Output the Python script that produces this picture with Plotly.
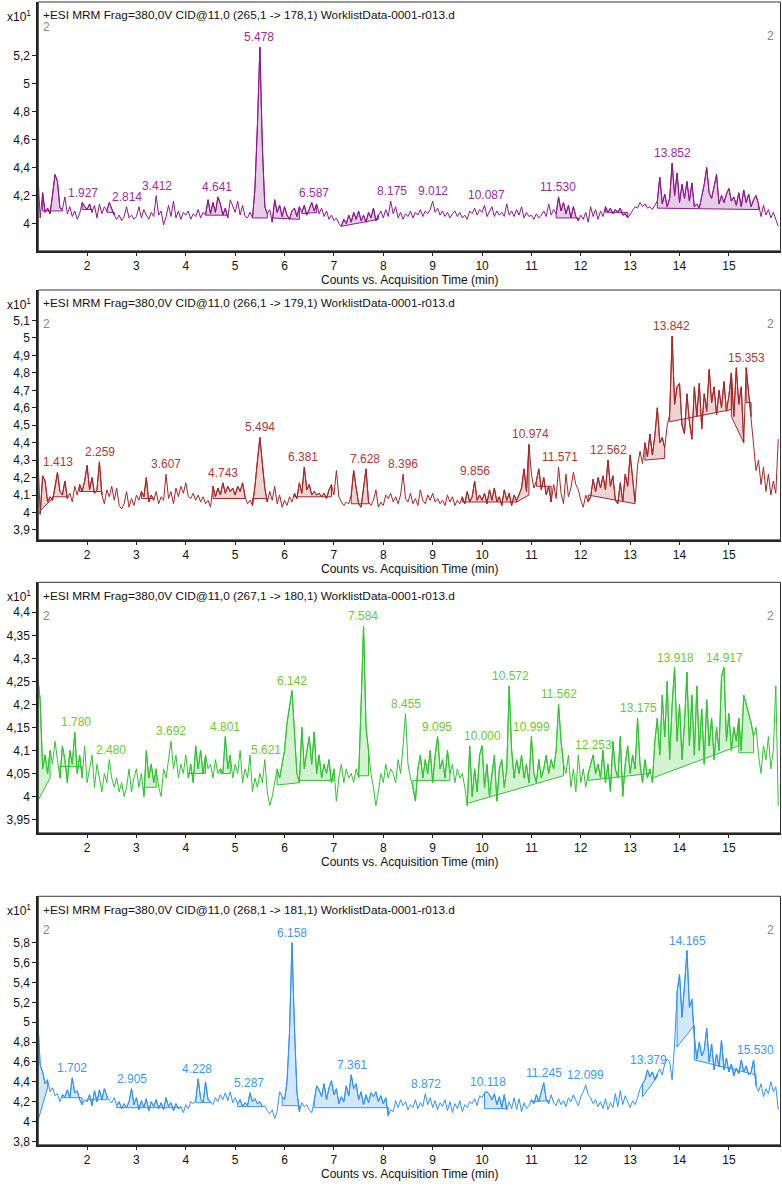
import plotly.graph_objects as go

W, H = 782, 1186
T0, DT = 1.0, 0.05   # acquisition sampling (min)

# ---------------- data (counts x10^1, one row per minute) ----------------
p1_counts = [
    4.38, 4.04, 4.22, 4.08, 4.11, 4.07, 4.20, 4.35, 4.30, 4.11, 4.10, 4.19, 4.07, 4.12, 4.05, 4.09, 4.03, 4.07, 4.15, 4.12,
    4.10, 4.14, 4.08, 4.13, 4.04, 4.14, 4.07, 4.12, 4.09, 4.15, 4.10, 4.06, 4.03, 4.06, 4.02, 4.05, 4.12, 4.04, 4.06, 4.03,
    4.05, 4.12, 4.04, 4.10, 4.06, 4.03, 4.08, 4.05, 4.20, 4.06, 4.09, 3.99, 4.05, 4.13, 4.05, 4.16, 4.04, 4.09, 4.03, 4.08,
    4.06, 4.09, 4.03, 4.07, 4.05, 4.10, 4.04, 4.08, 4.06, 4.17, 4.07, 4.15, 4.08, 4.19, 4.14, 4.06, 4.11, 4.04, 4.17, 4.12,
    4.08, 4.16, 4.06, 4.13, 4.05, 4.04, 4.08, 4.04, 4.25, 4.70, 5.26, 4.55, 4.12, 4.07, 4.10, 4.01, 4.17, 4.08, 4.13, 4.05,
    4.12, 4.06, 4.03, 4.09, 4.11, 4.05, 4.12, 4.08, 4.13, 4.06, 4.10, 4.15, 4.09, 4.14, 4.07, 4.11, 4.05, 4.09, 4.03, 4.06,
    4.02, 4.04, 4.00, 3.98, 4.03, 4.00, 4.06, 4.01, 4.08, 4.03, 4.09, 4.02, 4.06, 4.01, 4.08, 4.04, 4.11, 4.02, 4.06, 4.09,
    4.04, 4.10, 4.05, 4.16, 4.07, 4.12, 4.04, 4.08, 4.03, 4.07, 4.05, 4.09, 4.04, 4.08, 4.06, 4.10, 4.05, 4.09, 4.07, 4.10,
    4.16, 4.08, 4.11, 4.06, 4.09, 4.05, 4.08, 4.04, 4.07, 4.09, 4.05, 4.08, 4.04, 4.06, 4.03, 4.09, 4.07, 4.11, 4.06, 4.10,
    4.08, 4.13, 4.05, 4.09, 4.12, 4.05, 4.09, 4.06, 4.08, 4.05, 4.14, 4.06, 4.09, 4.05, 4.10, 4.06, 4.12, 4.04, 4.08, 4.05,
    4.06, 4.03, 4.07, 4.04, 4.06, 4.09, 4.05, 4.14, 4.06, 4.10, 4.07, 4.19, 4.09, 4.15, 4.07, 4.13, 4.04, 4.12, 4.05, 4.02,
    4.06, 4.03, 4.08, 4.01, 4.12, 4.05, 4.10, 4.03, 4.09, 4.05, 4.12, 4.08, 4.11, 4.07, 4.10, 4.08, 4.11, 4.06, 4.07, 4.04,
    4.07, 4.10, 4.12, 4.11, 4.15, 4.12, 4.14, 4.11, 4.12, 4.10, 4.13, 4.16, 4.33, 4.14, 4.21, 4.12, 4.18, 4.43, 4.20, 4.36,
    4.15, 4.28, 4.18, 4.30, 4.16, 4.29, 4.12, 4.14, 4.11, 4.20, 4.28, 4.40, 4.22, 4.18, 4.26, 4.35, 4.14, 4.20, 4.15, 4.21,
    4.25, 4.16, 4.19, 4.13, 4.22, 4.12, 4.24, 4.15, 4.21, 4.12, 4.17, 4.20, 4.14, 4.05, 4.13, 4.06, 4.10, 4.04, 4.08, 4.03,
    3.98,
]
p2_counts = [
    4.35, 3.99, 4.21, 4.18, 4.06, 4.09, 4.07, 4.14, 4.23, 4.12, 4.10, 4.18, 4.08, 4.11, 4.06, 4.15, 4.10, 4.16, 4.12, 4.18,
    4.27, 4.13, 4.20, 4.11, 4.13, 4.29, 4.10, 4.05, 4.13, 4.09, 4.15, 4.07, 4.14, 4.04, 4.02, 4.05, 4.12, 4.03, 4.08, 4.04,
    4.10, 4.07, 4.12, 4.09, 4.20, 4.06, 4.10, 4.07, 4.12, 4.05, 4.09, 4.07, 4.22, 4.08, 4.12, 4.05, 4.14, 4.09, 4.15, 4.11,
    4.17, 4.09, 4.08, 4.11, 4.07, 4.10, 4.06, 4.09, 4.05, 4.07, 4.03, 4.15, 4.09, 4.14, 4.10, 4.17, 4.11, 4.15, 4.12, 4.14,
    4.10, 4.15, 4.12, 4.17, 4.09, 4.05, 4.07, 4.04, 4.15, 4.30, 4.43, 4.28, 4.14, 4.06, 4.12, 4.07, 4.15, 4.05, 4.10, 4.03,
    4.07, 4.04, 4.09, 4.06, 4.11, 4.08, 4.17, 4.11, 4.26, 4.13, 4.16, 4.10, 4.12, 4.10, 4.11, 4.09, 4.11, 4.08, 4.13, 4.16,
    4.10, 4.24, 4.09, 4.06, 4.04, 4.06, 4.05, 4.10, 4.24, 4.14, 4.05, 4.03, 4.15, 4.25, 4.06, 4.04, 4.07, 4.13, 4.03, 4.06,
    4.04, 4.10, 4.08, 4.11, 4.06, 4.09, 4.05, 4.10, 4.22, 4.08, 4.06, 4.11, 4.05, 4.08, 4.04, 4.13, 4.07, 4.05, 4.10, 4.07,
    4.11, 4.06, 4.08, 4.05, 4.07, 4.04, 4.10, 4.06, 4.09, 4.04, 4.07, 4.05, 4.09, 4.05, 4.12, 4.06, 4.09, 4.18, 4.07, 4.10,
    4.07, 4.11, 4.05, 4.13, 4.07, 4.14, 4.06, 4.09, 4.04, 4.13, 4.07, 4.11, 4.04, 4.10, 4.07, 4.10, 4.14, 4.25, 4.12, 4.39,
    4.22, 4.14, 4.18, 4.25, 4.13, 4.20, 4.10, 4.15, 4.06, 4.16, 4.08, 4.26, 4.11, 4.05, 4.22, 4.09, 4.14, 4.23, 4.16, 4.13,
    4.07, 4.03, 4.10, 4.06, 4.09, 4.19, 4.12, 4.20, 4.14, 4.21, 4.13, 4.30, 4.15, 4.21, 4.07, 4.05, 4.17, 4.06, 4.22, 4.15,
    4.33, 4.20, 4.06, 4.27, 4.35, 4.28, 4.40, 4.32, 4.45, 4.33, 4.44, 4.60, 4.40, 4.43, 4.37, 4.50, 4.56, 5.01, 4.62, 4.72,
    4.74, 4.50, 4.45, 4.68, 4.52, 4.42, 4.72, 4.55, 4.74, 4.48, 4.68, 4.58, 4.82, 4.63, 4.72, 4.56, 4.70, 4.60, 4.75, 4.58,
    4.67, 4.80, 4.55, 4.83, 4.62, 4.72, 4.40, 4.83, 4.68, 4.55, 4.38, 4.24, 4.30, 4.16, 4.26, 4.12, 4.22, 4.10, 4.18, 4.11,
    4.42,
]
p3_counts = [
    4.26, 4.21, 4.06, 4.09, 4.05, 4.10, 4.07, 4.12, 4.08, 4.04, 4.11, 4.08, 4.03, 4.10, 4.07, 4.14, 4.05, 4.09, 4.04, 4.11,
    4.03, 4.06, 4.09, 4.02, 4.07, 4.04, 4.01, 4.05, 4.03, 4.08, 4.04, 4.02, 4.04, 4.01, 4.03, 4.00, 4.02, 4.06, 4.01, 4.04,
    4.06, 4.02, 4.05, 4.00, 4.10, 4.04, 4.07, 4.03, 4.06, 4.02, 4.00, 4.06, 4.04, 4.08, 4.12, 4.06, 4.09, 4.04, 4.07, 4.05,
    4.09, 4.04, 4.07, 4.03, 4.11, 4.06, 4.10, 4.05, 4.09, 4.06, 4.07, 4.04, 4.08, 4.05, 4.06, 4.05, 4.13, 4.06, 4.09, 4.04,
    4.07, 4.05, 4.10, 4.03, 4.06, 4.04, 4.09, 4.01, 4.04, 4.02, 4.05, 4.03, 4.08, 4.01, 3.98, 4.00, 4.03, 4.06, 4.04, 4.07,
    4.10, 4.16, 4.20, 4.23, 4.14, 4.05, 4.03, 4.15, 4.06, 4.10, 4.13, 4.07, 4.14, 4.05, 4.09, 4.04, 4.07, 4.05, 4.08, 4.03,
    4.06, 3.99, 4.04, 4.07, 4.03, 4.06, 4.04, 4.05, 4.03, 4.06, 4.04, 4.20, 4.37, 4.15, 4.10, 4.05, 4.02, 3.98, 4.01, 4.05,
    4.03, 4.07, 4.04, 4.06, 4.05, 4.03, 4.08, 4.05, 4.11, 4.18, 4.07, 4.04, 4.02, 3.99, 4.06, 4.09, 4.04, 4.08, 4.05, 4.10,
    4.03, 4.09, 4.13, 4.06, 4.08, 4.04, 4.10, 4.05, 4.07, 4.03, 4.06, 4.04, 4.05, 4.02, 3.98, 4.11, 4.00, 4.06, 4.01, 4.09,
    4.11, 4.02, 4.07, 4.00, 4.05, 4.09, 3.99, 4.06, 4.08, 4.02, 4.06, 4.24, 4.10, 4.04, 4.08, 4.05, 4.09, 4.04, 4.07, 4.03,
    4.13, 4.05, 4.03, 4.08, 4.04, 4.06, 4.09, 4.05, 4.08, 4.06, 4.10, 4.20, 4.12, 4.07, 4.05, 4.09, 4.02, 4.06, 4.01, 4.09,
    4.03, 4.06, 4.02, 4.05, 4.07, 4.09, 4.05, 4.07, 4.04, 4.10, 4.03, 4.07, 4.01, 4.12, 4.06, 4.04, 4.13, 4.00, 4.07, 4.11,
    4.05, 4.09, 4.06, 4.17, 4.07, 4.03, 4.08, 4.04, 4.06, 4.03, 4.12, 4.17, 4.09, 4.22, 4.13, 4.25, 4.08, 4.20, 4.28, 4.12,
    4.20, 4.08, 4.16, 4.27, 4.11, 4.22, 4.09, 4.24, 4.10, 4.19, 4.07, 4.21, 4.11, 4.17, 4.08, 4.15, 4.10, 4.26, 4.28, 4.12,
    4.18, 4.10, 4.15, 4.12, 4.17, 4.10, 4.22, 4.20, 4.18, 4.16, 4.13, 4.15, 4.09, 4.05, 4.11, 4.08, 4.13, 4.06, 4.10, 4.24,
    3.98,
]
p4_counts = [
    5.04, 4.57, 4.50, 4.38, 4.42, 4.30, 4.34, 4.26, 4.28, 4.20, 4.27, 4.25, 4.32, 4.24, 4.44, 4.29, 4.31, 4.22, 4.17, 4.22,
    4.20, 4.27, 4.16, 4.31, 4.20, 4.32, 4.22, 4.33, 4.26, 4.21, 4.19, 4.24, 4.16, 4.20, 4.13, 4.18, 4.14, 4.20, 4.33, 4.17,
    4.24, 4.12, 4.21, 4.14, 4.23, 4.11, 4.20, 4.15, 4.22, 4.13, 4.19, 4.12, 4.24, 4.15, 4.19, 4.11, 4.18, 4.13, 4.15, 4.09,
    4.17, 4.13, 4.20, 4.18, 4.21, 4.43, 4.23, 4.19, 4.40, 4.22, 4.20, 4.17, 4.24, 4.20, 4.27, 4.22, 4.29, 4.21, 4.30, 4.19,
    4.24, 4.18, 4.22, 4.15, 4.19, 4.16, 4.29, 4.20, 4.23, 4.18, 4.20, 4.15, 4.16, 4.11, 4.08, 4.12, 4.03, 4.10, 4.30, 4.25,
    4.22, 4.40, 4.90, 5.80, 4.95, 4.30, 4.10, 4.19, 4.15, 4.17, 4.12, 4.09, 4.21, 4.36, 4.32, 4.25, 4.38, 4.22, 4.34, 4.41,
    4.27, 4.33, 4.18, 4.25, 4.20, 4.36, 4.26, 4.47, 4.33, 4.38, 4.22, 4.30, 4.17, 4.27, 4.19, 4.29, 4.25, 4.30, 4.20, 4.26,
    4.18, 4.24, 4.06, 4.12, 4.10, 4.21, 4.14, 4.22, 4.16, 4.20, 4.12, 4.17, 4.14, 4.22, 4.13, 4.19, 4.15, 4.28, 4.17, 4.24,
    4.14, 4.21, 4.12, 4.19, 4.15, 4.22, 4.11, 4.20, 4.09, 4.18, 4.13, 4.21, 4.10, 4.17, 4.14, 4.20, 4.18, 4.23, 4.16, 4.26,
    4.24, 4.29, 4.30, 4.27, 4.22, 4.28, 4.17, 4.25, 4.14, 4.27, 4.12, 4.20, 4.13, 4.24, 4.12, 4.23, 4.10, 4.19, 4.13, 4.16,
    4.22, 4.18, 4.27, 4.20, 4.30, 4.39, 4.22, 4.18, 4.27, 4.19, 4.16, 4.23, 4.17, 4.21, 4.15, 4.24, 4.20, 4.27, 4.21, 4.16,
    4.25, 4.30, 4.37, 4.27, 4.24, 4.18, 4.22, 4.15, 4.20, 4.13, 4.23, 4.12, 4.19, 4.14, 4.28, 4.15, 4.31, 4.17, 4.26, 4.19,
    4.14, 4.21, 4.17, 4.24, 4.33, 4.38, 4.42, 4.52, 4.45, 4.50, 4.42, 4.48, 4.53, 4.47, 4.58, 4.63, 4.60, 4.42, 4.78, 5.30,
    5.48, 5.05, 5.35, 5.72, 5.15, 5.23, 4.85, 4.63, 4.80, 4.66, 4.72, 4.94, 4.60, 4.78, 4.52, 4.68, 4.55, 4.82, 4.52, 4.64,
    4.50, 4.58, 4.46, 4.54, 4.48, 4.62, 4.50, 4.56, 4.47, 4.50, 4.62, 4.36, 4.30, 4.38, 4.25, 4.33, 4.28, 4.40, 4.30, 4.35,
    4.12,
]

# integrated peaks: (start time, end time, baseline at start, baseline at end)
p1_baselines = [(1.10, 1.50, 4.09, 4.09), (1.90, 2.10, 4.10, 4.10), (2.40, 2.55, 4.08, 4.08),
                (4.40, 4.85, 4.06, 4.06), (5.35, 5.65, 4.04, 4.04), (5.75, 6.30, 4.04, 4.03),
                (6.35, 6.65, 4.07, 4.08), (7.15, 7.90, 3.98, 4.03), (11.50, 11.95, 4.04, 4.04),
                (12.50, 12.95, 4.08, 4.08), (13.55, 15.60, 4.11, 4.10)]
p2_baselines = [(1.05, 1.30, 4.01, 4.08), (1.30, 1.60, 4.09, 4.09), (1.85, 2.30, 4.12, 4.12),
                (3.10, 3.35, 4.08, 4.08), (4.55, 5.20, 4.08, 4.08), (5.35, 5.65, 4.08, 4.08),
                (6.20, 6.95, 4.09, 4.09), (7.35, 7.70, 4.05, 4.05), (9.60, 10.70, 4.06, 4.06),
                (10.70, 10.95, 4.06, 4.10), (11.10, 11.40, 4.15, 4.15), (12.15, 13.10, 4.10, 4.05),
                (13.30, 13.70, 4.30, 4.31), (13.80, 15.05, 4.52, 4.59), (15.05, 15.30, 4.55, 4.40),
                (15.35, 15.45, 4.63, 4.63)]
p3_baselines = [(1.00, 1.25, 3.99, 4.04), (1.45, 1.90, 4.065, 4.065), (3.15, 3.40, 4.02, 4.02),
                (4.05, 4.40, 4.05, 4.05), (4.70, 4.90, 4.05, 4.05), (5.85, 6.30, 4.025, 4.03),
                (6.30, 7.00, 4.035, 4.035), (7.50, 7.70, 4.045, 4.045), (8.60, 9.35, 4.035, 4.035),
                (9.70, 11.65, 3.985, 4.045), (12.15, 13.40, 4.035, 4.05), (13.45, 15.20, 4.04, 4.11),
                (15.20, 15.50, 4.095, 4.095)]
p4_baselines = [(1.00, 1.20, 4.00, 4.34), (1.50, 1.90, 4.24, 4.24), (2.00, 2.40, 4.22, 4.22),
                (2.60, 3.90, 4.14, 4.14), (4.20, 4.50, 4.19, 4.19), (5.05, 5.55, 4.15, 4.15),
                (5.95, 6.30, 4.16, 4.16), (6.60, 8.10, 4.14, 4.14), (10.05, 10.50, 4.13, 4.13),
                (11.00, 11.35, 4.20, 4.21), (13.25, 13.55, 4.25, 4.45), (13.95, 14.30, 4.75, 4.97),
                (14.30, 15.55, 4.62, 4.47)]

p1_peaks = [1.927, 2.814, 3.412, 4.641, 5.478, 6.587, 8.175, 9.012, 10.087, 11.530, 13.852]
p2_peaks = [1.413, 2.259, 3.607, 4.743, 5.494, 6.381, 7.628, 8.396, 9.856, 10.974, 11.571,
            12.562, 13.842, 15.353]
p3_peaks = [1.780, 2.480, 3.692, 4.801, 5.621, 6.142, 7.584, 8.455, 9.095, 10.000, 10.572,
            10.999, 11.562, 12.253, 13.175, 13.918, 14.917]
p4_peaks = [1.702, 2.905, 4.228, 5.287, 6.158, 7.361, 8.872, 10.118, 11.245, 12.099, 13.379,
            14.165, 15.530]

x_ticks = [2, 3, 4, 5, 6, 7, 8, 9, 10, 11, 12, 13, 14, 15]
p1_yticks = [4.0, 4.2, 4.4, 4.6, 4.8, 5.0, 5.2]
p2_yticks = [3.9, 4.0, 4.1, 4.2, 4.3, 4.4, 4.5, 4.6, 4.7, 4.8, 4.9, 5.0, 5.1]
p3_yticks = [3.95, 4.0, 4.05, 4.1, 4.15, 4.2, 4.25, 4.3, 4.35, 4.4]
p4_yticks = [3.8, 4.0, 4.2, 4.4, 4.6, 4.8, 5.0, 5.2, 5.4, 5.6, 5.8]

titles = [
    "+ESI MRM Frag=380,0V CID@11,0 (265,1 -> 178,1) WorklistData-0001-r013.d",
    "+ESI MRM Frag=380,0V CID@11,0 (266,1 -> 179,1) WorklistData-0001-r013.d",
    "+ESI MRM Frag=380,0V CID@11,0 (267,1 -> 180,1) WorklistData-0001-r013.d",
    "+ESI MRM Frag=380,0V CID@11,0 (268,1 -> 181,1) WorklistData-0001-r013.d",
]

# ---------------- styling / layout ----------------
FONT = "Liberation Sans, Arial, sans-serif"
X_LEFT, X_RIGHT = 38.3, 780.5
panels = [
    dict(vals=p1_counts, base=p1_baselines, peaks=p1_peaks, yt=p1_yticks, yr=[3.805, 5.582],
         top=2.0, bot=251.7, two_dy=25, line="#8B1A8B", lab="#9A2E9A", fill="rgba(139,26,139,0.22)"),
    dict(vals=p2_counts, base=p2_baselines, peaks=p2_peaks, yt=p2_yticks, yr=[3.843, 5.275],
         top=291.0, bot=541.7, two_dy=34, line="#A32828", lab="#B03838", fill="rgba(163,40,40,0.20)"),
    dict(vals=p3_counts, base=p3_baselines, peaks=p3_peaks, yt=p3_yticks, yr=[3.921, 4.465],
         top=584.3, bot=835.7, two_dy=34, line="#33C233", lab="#6CC832", fill="rgba(51,194,51,0.22)"),
    dict(vals=p4_counts, base=p4_baselines, peaks=p4_peaks, yt=p4_yticks, yr=[3.766, 6.267],
         top=899.3, bot=1148.7, two_dy=34, line="#3392F2", lab="#3D98F5", fill="rgba(51,146,242,0.22)"),
]


def PX(x):
    return x / W


def PY(y):
    return 1 - y / H


fig = go.Figure()
annotations = []
shapes = []
layout = dict(width=W, height=H, margin=dict(l=0, r=0, t=0, b=0), showlegend=False,
              paper_bgcolor="white", plot_bgcolor="white", separators=",.",
              font=dict(family=FONT, size=12, color="#111"), hovermode=False)

for k, p in enumerate(panels):
    sfx = "" if k == 0 else str(k + 1)
    xa, ya = "x" + sfx, "y" + sfx
    vals = p["vals"]
    t = [round(T0 + DT * i, 2) for i in range(len(vals))]

    for (t0, t1, b0, b1) in p["base"]:
        i0 = int(round((t0 - T0) / DT))
        i1 = int(round((t1 - T0) / DT))
        xs = [t[i0]] + t[i0:i1 + 1] + [t[i1], t[i0]]
        ys = [b0] + vals[i0:i1 + 1] + [b1, b0]
        fig.add_trace(go.Scatter(x=xs, y=ys, xaxis=xa, yaxis=ya, mode="lines", fill="toself",
                                 fillcolor=p["fill"], line=dict(color=p["line"], width=1),
                                 hoverinfo="skip"))
    fig.add_trace(go.Scatter(x=t, y=vals, xaxis=xa, yaxis=ya, mode="lines",
                             line=dict(color=p["line"], width=1), hoverinfo="skip"))

    for lt in p["peaks"]:
        i = int(round((lt - T0) / DT))
        ymax = max(vals[max(0, i - 1):i + 2])
        annotations.append(dict(x=lt, y=ymax, xref=xa, yref=ya, text=f"{lt:.3f}", showarrow=False,
                                xanchor="center", yanchor="bottom", yshift=1,
                                font=dict(family=FONT, size=12, color=p["lab"])))

    ydom = [PY(p["bot"]), PY(p["top"])]
    layout["xaxis" + sfx] = dict(domain=[PX(X_LEFT), PX(X_RIGHT)], range=[1.012, 16.045], anchor=ya,
                                 tickvals=x_ticks, ticks="outside", ticklen=3, tickwidth=1,
                                 tickcolor="#222", showline=True, linewidth=2, linecolor="#222",
                                 showgrid=False, zeroline=False,
                                 tickfont=dict(family=FONT, size=12, color="#111"))
    layout["yaxis" + sfx] = dict(domain=ydom, range=p["yr"], anchor=xa, tickvals=p["yt"],
                                 ticks="outside", ticklen=4, tickwidth=1, tickcolor="#222",
                                 showline=True, linewidth=2, linecolor="#222", showgrid=False,
                                 zeroline=False, tickfont=dict(family=FONT, size=12, color="#111"))
    # thin frame
    shapes.append(dict(type="rect", xref="paper", yref="paper", x0=PX(X_LEFT), x1=PX(X_RIGHT),
                       y0=ydom[0], y1=ydom[1], line=dict(color="#333", width=1)))
    # header texts
    annotations.append(dict(x=PX(41), y=PY(p["top"] + 13.5), xref="paper", yref="paper",
                            text=titles[k], showarrow=False, xanchor="left", yanchor="middle",
                            font=dict(family=FONT, size=11.8, color="#111")))
    annotations.append(dict(x=PX(33), y=PY(p["top"] + 14), xref="paper", yref="paper",
                            text="x10<sup>1</sup>", showarrow=False, xanchor="right",
                            yanchor="middle", font=dict(family=FONT, size=12, color="#111")))
    annotations.append(dict(x=PX(41), y=PY(p["top"] + p["two_dy"]), xref="paper", yref="paper",
                            text="2", showarrow=False, xanchor="left", yanchor="middle",
                            font=dict(family=FONT, size=12, color="#888")))
    annotations.append(dict(x=PX(776), y=PY(p["top"] + 34), xref="paper", yref="paper",
                            text="2", showarrow=False, xanchor="right", yanchor="middle",
                            font=dict(family=FONT, size=12, color="#888")))
    annotations.append(dict(x=PX((X_LEFT + X_RIGHT) / 2), y=PY(p["bot"] + 20), xref="paper",
                            yref="paper", text="Counts vs. Acquisition Time (min)", showarrow=False,
                            xanchor="center", yanchor="top",
                            font=dict(family=FONT, size=12, color="#111")))

layout["annotations"] = annotations
layout["shapes"] = shapes
fig.update_layout(**layout)
fig.write_html("out.html")
